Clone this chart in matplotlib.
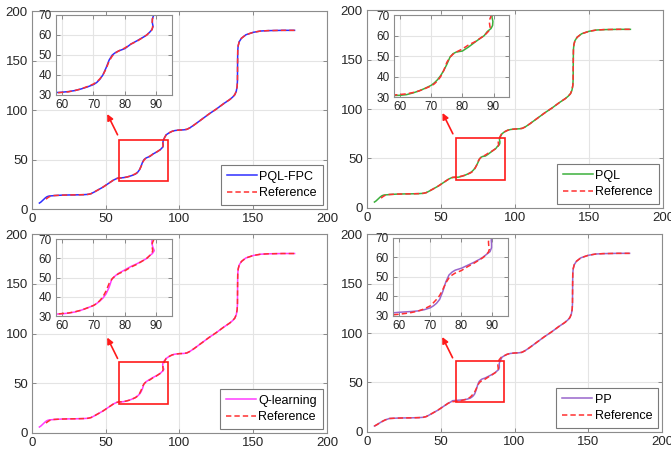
import numpy as np
import matplotlib.pyplot as plt

plt.rcParams['font.family'] = ['Liberation Sans', 'DejaVu Sans']

# ---- path data (x, y) ----
# start of the path for the planners
alg_head_x = [5, 6, 7, 8, 9, 10, 11, 12, 14]
alg_head_y = [6, 7, 8.4, 9.8, 11.2, 12.3, 12.9, 13.2, 13.4]
# start of the reference path
ref_head_x = [9.5, 10.5, 11.5, 12.5, 14]
ref_head_y = [10, 11.2, 12.2, 12.9, 13.4]
# smoother start used in the PP panel
pp_head_x = [5, 6.5, 8, 9.5, 11, 12.5, 14]
pp_head_y = [6, 7.2, 8.6, 10, 11.2, 12.3, 13]

# common stretch before the zoomed region
flat_x = [15, 20, 25, 30, 35, 38, 40, 42, 45, 48, 50, 53, 55, 57]
flat_y = [13.6, 14, 14.2, 14.3, 14.5, 14.8, 15.5, 17, 19.5, 22, 24, 27, 29, 30.5]

# zoomed region (58..91)
ref_mid_x = [58, 60, 62, 64, 66, 68, 70, 71, 72, 73, 74, 75, 76, 77, 78, 80, 82, 84, 86, 87, 88, 88.6, 88.9, 88.7, 88.8, 89.3, 90, 91]
ref_mid_y = [31, 31.3, 31.6, 32.2, 33, 34.2, 35.5, 36.5, 38, 40, 43, 47, 49.5, 51, 52, 53.5, 55.5, 57, 59, 60, 61.5, 62.5, 64, 66, 68, 70, 72.5, 75]

fpc_mid_x = [58, 60, 62, 64, 66, 68, 70, 71, 72, 73, 74, 75, 76, 77, 78, 80, 82, 84, 86, 87, 88, 88.7, 89.0, 88.8, 88.8, 89.2, 90, 91]
fpc_mid_y = [31.2, 31.4, 31.7, 32.2, 33, 34, 35.2, 36.2, 37.8, 40, 43.5, 47.5, 50, 51.2, 52, 53.2, 55.5, 57.2, 59, 60, 61.5, 62.8, 64.3, 66, 68, 70, 72.5, 75]

pql_mid_x = [58, 60, 62, 64, 66, 68, 70, 71, 72, 73, 74, 75, 76, 77, 78, 80, 82, 84, 86, 87, 88, 89.2, 89.7, 89.8, 89.5, 89.6, 90.3, 91.2]
pql_mid_y = [30.8, 30.9, 31.2, 32, 33, 34.3, 35.8, 37, 38.5, 40.5, 43, 46, 49.5, 51.2, 52, 52.5, 54.5, 56.8, 59, 60, 62, 63.5, 65, 67, 69, 70, 72.5, 75]

ql_mid_x = [58, 60, 62, 64, 66, 68, 70, 71, 72, 73, 74, 75, 75.8, 77, 78, 80, 82, 84, 86, 87, 88, 88.8, 89.4, 88.9, 88.6, 88.7, 89.6, 91]
ql_mid_y = [31, 31.2, 31.5, 32.1, 33, 34.2, 35.5, 36.5, 37.8, 39.3, 41.5, 45, 49, 51, 52.2, 54, 55.8, 57.3, 59, 60, 61.5, 62.5, 64, 66, 68, 70, 72.5, 75]

pp_mid_x = [58, 60, 62, 64, 66, 68, 70, 71, 72, 73, 74, 75, 76, 77, 78, 80, 82, 84, 86, 87, 88, 89.2, 89.7, 89.7, 89.6, 89.8, 90.5, 91.5]
pp_mid_y = [31.6, 31.9, 32.1, 32.3, 32.6, 33.2, 34.2, 35.2, 36.5, 38.5, 42.5, 47.5, 51, 52.5, 53.5, 54.5, 56, 57.5, 59.2, 60.2, 61.5, 63, 65, 67, 69, 70, 72.5, 75.5]

ppref_mid_x = [58, 60, 62, 64, 66, 68, 70, 71, 72, 73, 74, 75, 76, 77, 78, 80, 82, 84, 86, 87, 88, 88.7, 89.0, 88.8, 88.7, 88.9, 89.6, 91]
ppref_mid_y = [30.6, 30.9, 31.3, 31.8, 32.5, 33.6, 35.2, 36.8, 38.5, 40.5, 43.5, 47, 49.5, 51, 52, 53.3, 55.3, 57, 59, 60, 61.5, 62.8, 64.3, 66, 68, 70, 73, 75.5]

# common stretch after the zoomed region
tail_x = [93, 95, 97, 100, 103, 105, 107, 110, 115, 120, 125, 130, 134, 136, 137.5, 138.5, 139.1, 139.3,
          139.4, 139.5, 139.8, 140.5, 142, 145, 150, 155, 160, 170, 178]
tail_y = [77, 78.5, 79.3, 79.8, 80, 80.5, 82, 85, 90.5, 96, 101, 106.5, 110.5, 113, 115.5, 119, 124, 130,
          150, 160, 165, 169, 172.5, 176, 178.5, 179.8, 180.2, 180.5, 180.5]

methods = ['PQL-FPC', 'PQL', 'Q-learning', 'PP']
colors = ['#2f2fff', '#3cb03c', '#ff3cff', '#9966cc']
ref_color = '#ff3030'


def build(head_x, head_y, mid_x, mid_y):
    x = np.concatenate([head_x, flat_x, mid_x, tail_x])
    y = np.concatenate([head_y, flat_y, mid_y, tail_y])
    return x, y


paths = [
    (build(alg_head_x, alg_head_y, fpc_mid_x, fpc_mid_y), build(ref_head_x, ref_head_y, ref_mid_x, ref_mid_y)),
    (build(alg_head_x, alg_head_y, pql_mid_x, pql_mid_y), build(ref_head_x, ref_head_y, ref_mid_x, ref_mid_y)),
    (build(alg_head_x, alg_head_y, ql_mid_x, ql_mid_y), build(ref_head_x, ref_head_y, ref_mid_x, ref_mid_y)),
    (build(pp_head_x, pp_head_y, pp_mid_x, pp_mid_y), build(pp_head_x, pp_head_y, ppref_mid_x, ppref_mid_y)),
]

# axes placement
main_pos = [
    [0.0477, 0.5396, 0.4396, 0.4361],
    [0.547, 0.5419, 0.441, 0.436],
    [0.0477, 0.0463, 0.4396, 0.438],
    [0.547, 0.0485, 0.4396, 0.436],
]
inset_pos = [
    [0.081, 0.576, 0.393, 0.404],
    [0.091, 0.56, 0.389, 0.414],
    [0.081, 0.588, 0.393, 0.387],
    [0.088, 0.586, 0.39, 0.394],
]
boxes = [(59, 28, 33, 42), (60, 28, 33, 42.5), (59, 29, 33, 42), (60, 30, 33, 42)]


def style(ax, size):
    ax.grid(True, color='#e4e4e4', lw=0.8)
    ax.set_axisbelow(True)
    ax.tick_params(direction='in', top=True, right=True, length=3, width=0.6,
                   colors='#7a7a7a', labelcolor='#262626', labelsize=size, pad=3)
    for s in ax.spines.values():
        s.set_color('#8c8c8c')
        s.set_linewidth(0.8)


fig = plt.figure(figsize=(6.71, 4.54), dpi=100)

for i in range(4):
    ax = fig.add_axes(main_pos[i])
    (mx, my), (rx, ry) = paths[i]
    ax.plot(mx, my, color=colors[i], lw=1.1, label=methods[i])
    ax.plot(rx, ry, color=ref_color, lw=1.1, ls=(0, (3.5, 2)), label='Reference')
    ax.set_xlim(0, 200)
    ax.set_ylim(0, 200)
    ax.set_xticks([0, 50, 100, 150, 200])
    ax.set_yticks([0, 50, 100, 150, 200])
    style(ax, 9.5)

    bx, by, bw, bh = boxes[i]
    ax.add_patch(plt.Rectangle((bx, by), bw, bh, fill=False, ec='#ff1a1a', lw=1.2, zorder=5))
    ax.annotate('', xy=(51, 96), xytext=(58, 75),
                arrowprops=dict(arrowstyle='-|>', color='#ff1a1a', lw=1.2, mutation_scale=9,
                                shrinkA=0, shrinkB=0))

    leg = ax.legend(loc='lower right', fontsize=9, handlelength=2.4, handletextpad=0.2,
                    borderpad=0.45, labelspacing=0.35, borderaxespad=0.35,
                    fancybox=False, framealpha=1)
    leg.get_frame().set_edgecolor('#7a7a7a')
    leg.get_frame().set_linewidth(0.8)

    ins = ax.inset_axes(inset_pos[i])
    ins.plot(mx, my, color=colors[i], lw=1.1)
    ins.plot(rx, ry, color=ref_color, lw=1.1, ls=(0, (3.5, 2)))
    ins.set_xlim(58, 95)
    ins.set_ylim(30, 70)
    ins.set_xticks([60, 70, 80, 90])
    ins.set_yticks([30, 40, 50, 60, 70])
    ins.set_facecolor('white')
    style(ins, 8.5)

fig.savefig('out.png', dpi=100)
